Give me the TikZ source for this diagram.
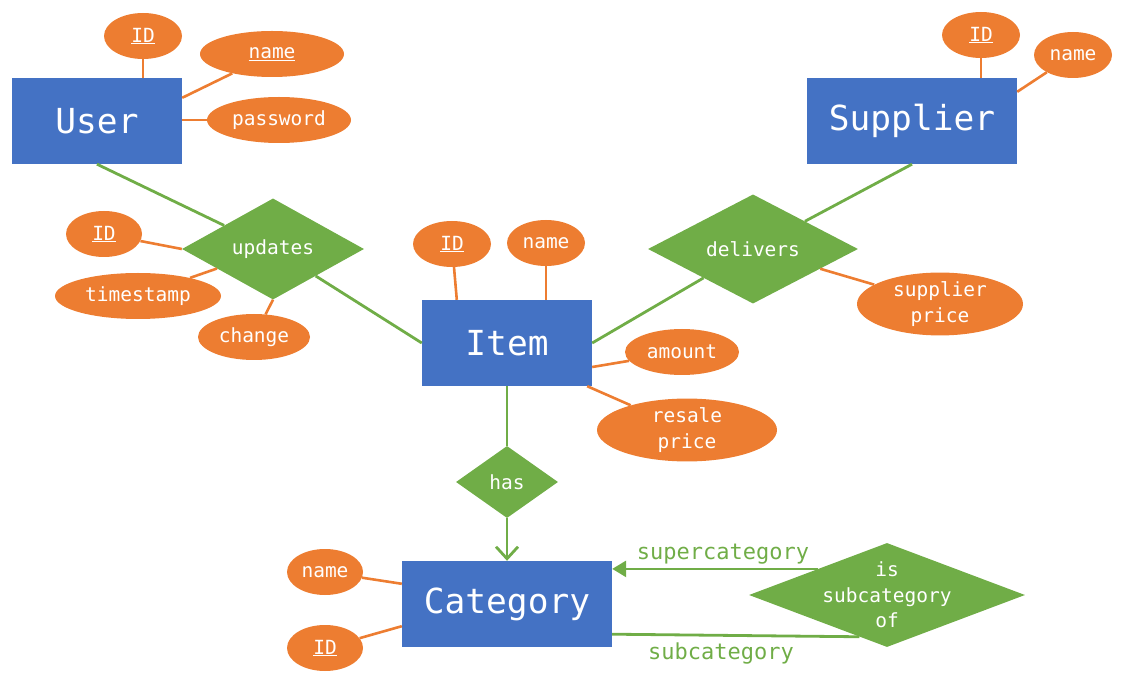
\documentclass[tikz,border=0pt]{standalone}
\usepackage{fontspec}
\setmainfont{DejaVu Sans Mono}
\usepackage{tikz}
\usetikzlibrary{shapes.geometric,arrows.meta,calc}

\definecolor{erblue}{HTML}{4472C4}
\definecolor{erorange}{HTML}{ED7D31}
\definecolor{ergreen}{HTML}{70AD47}

\tikzset{
	entity/.style={fill=erblue,text=white,minimum width=170pt,minimum height=86pt,inner sep=0pt,font=\fontsize{34.5}{40}\selectfont},
	attr/.style={ellipse,fill=erorange,text=white,minimum height=46pt,inner sep=0pt,align=center,font=\fontsize{19.5}{25.5}\selectfont},
	rel/.style={diamond,fill=ergreen,text=white,inner sep=0pt,font=\fontsize{19.5}{25.5}\selectfont},
	aline/.style={draw=erorange,line width=2.6pt},
	rline/.style={draw=ergreen,line width=2.8pt},
	role/.style={text=ergreen,font=\fontsize{22}{26}\selectfont},
}

\begin{document}
\begin{tikzpicture}[x=1pt,y=-1pt]
			\useasboundingbox (0,0) rectangle (1130,684);

				% entities
				\node[entity] (user) at(97,121){User};
				\node[entity,minimum width=210pt] (supplier) at(912,121){Supplier};
				\node[entity] (item) at(507,343){Item};
				\node[entity,minimum width=210pt] (category) at(507,604){Category};

				% relations
				\node[rel,minimum width=182pt,minimum height=86pt] (updates) at(273,249){updates};
				\node[rel,minimum width=210pt,minimum height=86pt] (delivers) at(753,249){delivers};
				\node[rel,minimum width=102pt,minimum height=72pt] (has) at(507,482){has};
				\node[rel,minimum width=276pt,minimum height=104pt,label={[text=white,align=center,font=\fontsize{19.5}{25.5}\selectfont]center:is\\subcategory\\of}] (issub) at(887,595){};

				% attributes
				\node[attr,minimum width=78pt] (userid) at(143,36){\underline{ID}};
				\node[attr,minimum width=144pt] (username) at(272,54){\underline{name}};
				\node[attr,minimum width=144pt] (userpass) at(279,120){password};
				\node[attr,minimum width=76pt] (updid) at(104,234){\underline{ID}};
				\node[attr,minimum width=166pt] (updtime) at(138,296){timestamp};
				\node[attr,minimum width=112pt] (updchange) at(254,337){change};
				\node[attr,minimum width=78pt] (itemid) at(452,244){\underline{ID}};
				\node[attr,minimum width=78pt] (itemname) at(546,243){name};
				\node[attr,minimum width=114pt] (amount) at(682,352){amount};
				\node[attr,minimum width=180pt,minimum height=58pt] (resale) at(687,430){resale\\price};
				\node[attr,minimum width=78pt] (supid) at(981,35){\underline{ID}};
				\node[attr,minimum width=78pt] (supname) at(1073,55){name};
				\node[attr,minimum width=166pt,minimum height=58pt] (supprice) at(940,304){supplier\\price};
				\node[attr,minimum width=76pt] (catname) at(325,572){name};
				\node[attr,minimum width=76pt] (catid) at(325,648){\underline{ID}};

				% attribute lines
				\draw[aline] (userid) -- (userid |- user.north);
				\draw[aline] (username) -- ([yshift=-20]user.north east);
				\draw[aline] (userpass) -- (userpass -| user.east);
				\draw[aline] (updid) -- (updates.west);
				\draw[aline] (updtime) -- (updates);
				\draw[aline] (updchange) -- (updates.south);
				\draw[aline] (itemid) -- ([xshift=35]item.north west);
				\draw[aline] (itemname) -- (itemname |- item.north);
				\draw[aline] (amount) -- ([yshift=-24]item.east);
				\draw[aline] (resale) -- ([xshift=-5]item.south east);
				\draw[aline] (supid) -- (supid |- supplier.north);
				\draw[aline] (supname) -- ([yshift=-14]supplier.north east);
				\draw[aline] (supprice) -- (delivers);
				\draw[aline] (catname) -- ([yshift=-23]category.north west);
				\draw[aline] (catid) -- ([yshift=21]category.south west);

				% relation lines
				\draw[rline] (user.south) -- (updates);
				\draw[rline] (updates) -- (item.west);
				\draw[rline] (item.east) -- (delivers);
				\draw[rline] (delivers) -- (supplier.south);
				\draw[rline] (item) -- (has);
				\draw[rline,-{Straight Barb[length=12pt,width=22pt,line width=2.8pt]}] (has) -- (category);
				\draw[rline,-{Triangle[length=14pt,width=16pt]}] (issub.north west) -- (issub.north west -| category.east) node[role,midway,above=0pt,xshift=8pt]{supercategory};
				\draw[rline] ([yshift=13]category.south east) -- ($(issub.south)!0.2!(issub.west)$) node[role,pos=0.44,below=3pt]{subcategory};

		\end{tikzpicture}
\end{document}
